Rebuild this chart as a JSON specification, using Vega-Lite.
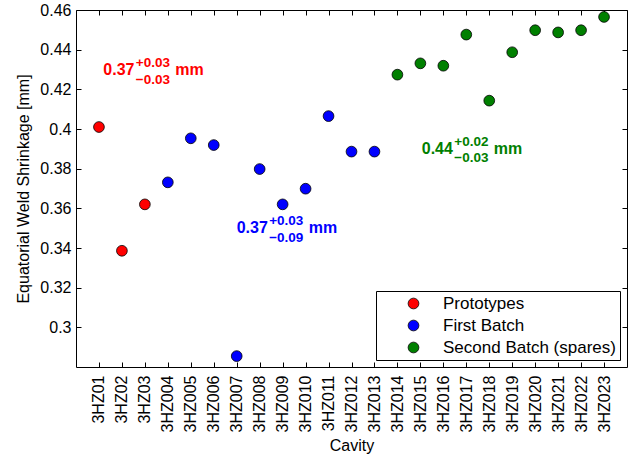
{
  "$schema": "https://vega.github.io/schema/vega-lite/v6.json",
  "width": 551,
  "height": 357,
  "autosize": "none",
  "padding": {"left": 76, "top": 10, "right": 2, "bottom": 93},
  "background": "white",
  "config": {
    "view": {"stroke": null},
    "font": "Liberation Sans",
    "axis": {"domainColor": "black", "tickColor": "black", "labelColor": "black", "titleColor": "black", "labelFont": "Liberation Sans", "titleFont": "Liberation Sans", "labelFontSize": 16, "titleFontSize": 16, "titleFontWeight": "normal", "grid": false, "tickSize": -5, "domainWidth": 1, "tickWidth": 1},
    "legend": {"labelFont": "Liberation Sans", "labelFontSize": 17, "labelColor": "black", "labelLimit": 0}
  },
  "datasets": {
    "cavities": [
      {"idx": 1, "cavity": "3HZ01", "batch": "Prototypes", "shrinkage": 0.401},
      {"idx": 2, "cavity": "3HZ02", "batch": "Prototypes", "shrinkage": 0.3386},
      {"idx": 3, "cavity": "3HZ03", "batch": "Prototypes", "shrinkage": 0.362},
      {"idx": 4, "cavity": "3HZ004", "batch": "First Batch", "shrinkage": 0.3731},
      {"idx": 5, "cavity": "3HZ005", "batch": "First Batch", "shrinkage": 0.3953},
      {"idx": 6, "cavity": "3HZ006", "batch": "First Batch", "shrinkage": 0.3919},
      {"idx": 7, "cavity": "3HZ007", "batch": "First Batch", "shrinkage": 0.2855},
      {"idx": 8, "cavity": "3HZ008", "batch": "First Batch", "shrinkage": 0.3798},
      {"idx": 9, "cavity": "3HZ009", "batch": "First Batch", "shrinkage": 0.362},
      {"idx": 10, "cavity": "3HZ010", "batch": "First Batch", "shrinkage": 0.3699},
      {"idx": 11, "cavity": "3HZ011", "batch": "First Batch", "shrinkage": 0.4065},
      {"idx": 12, "cavity": "3HZ012", "batch": "First Batch", "shrinkage": 0.3886},
      {"idx": 13, "cavity": "3HZ013", "batch": "First Batch", "shrinkage": 0.3886},
      {"idx": 14, "cavity": "3HZ014", "batch": "Second Batch (spares)", "shrinkage": 0.4274},
      {"idx": 15, "cavity": "3HZ015", "batch": "Second Batch (spares)", "shrinkage": 0.4331},
      {"idx": 16, "cavity": "3HZ016", "batch": "Second Batch (spares)", "shrinkage": 0.4319},
      {"idx": 17, "cavity": "3HZ017", "batch": "Second Batch (spares)", "shrinkage": 0.4476},
      {"idx": 18, "cavity": "3HZ018", "batch": "Second Batch (spares)", "shrinkage": 0.4143},
      {"idx": 19, "cavity": "3HZ019", "batch": "Second Batch (spares)", "shrinkage": 0.4387},
      {"idx": 20, "cavity": "3HZ020", "batch": "Second Batch (spares)", "shrinkage": 0.4498},
      {"idx": 21, "cavity": "3HZ021", "batch": "Second Batch (spares)", "shrinkage": 0.4487},
      {"idx": 22, "cavity": "3HZ022", "batch": "Second Batch (spares)", "shrinkage": 0.4498},
      {"idx": 23, "cavity": "3HZ023", "batch": "Second Batch (spares)", "shrinkage": 0.4565}
    ],
    "notes": [
      {"batch": "Prototypes", "x": 1.19, "y": 0.4272, "main": "0.37", "sup": "+0.03", "sub": "−0.03"},
      {"batch": "First Batch", "x": 7.0, "y": 0.3474, "main": "0.37", "sup": "+0.03", "sub": "−0.09"},
      {"batch": "Second Batch (spares)", "x": 15.06, "y": 0.3874, "main": "0.44", "sup": "+0.02", "sub": "−0.03"}
    ]
  },
  "layer": [
    {
      "data": {"name": "cavities"},
      "mark": {"type": "point", "shape": "circle", "filled": true, "size": 115, "stroke": "black", "strokeWidth": 0.8, "opacity": 1},
      "encoding": {
        "x": {"field": "idx", "type": "quantitative", "scale": {"domain": [0, 24], "nice": false, "zero": false},
          "axis": {"orient": "bottom", "title": "Cavity", "values": [1,2,3,4,5,6,7,8,9,10,11,12,13,14,15,16,17,18,19,20,21,22,23],
            "labelExpr": "['3HZ01','3HZ02','3HZ03','3HZ004','3HZ005','3HZ006','3HZ007','3HZ008','3HZ009','3HZ010','3HZ011','3HZ012','3HZ013','3HZ014','3HZ015','3HZ016','3HZ017','3HZ018','3HZ019','3HZ020','3HZ021','3HZ022','3HZ023'][datum.value - 1]",
            "labelAngle": -90, "labelAlign": "right", "labelBaseline": "middle", "labelPadding": 13, "titlePadding": 6, "labelOverlap": false, "labelFlush": false}},
        "y": {"field": "shrinkage", "type": "quantitative", "scale": {"domain": [0.28, 0.46], "nice": false, "zero": false},
          "axis": {"orient": "left", "title": "Equatorial Weld Shrinkage [mm]", "values": [0.3, 0.32, 0.34, 0.36, 0.38, 0.4, 0.42, 0.44, 0.46], "format": "~g", "labelPadding": 10, "titlePadding": 8, "labelFlush": false}},
        "color": {"field": "batch", "type": "nominal",
          "scale": {"domain": ["Prototypes", "First Batch", "Second Batch (spares)"], "range": ["#ff0000", "#0000ff", "#008000"]},
          "legend": {"title": null, "orient": "none", "legendX": 300, "legendY": 281, "strokeColor": "black", "fillColor": "white", "padding": 4, "symbolOffset": 25, "labelOffset": 21, "rowPadding": 4, "labelLimit": 0, "symbolSize": 115, "symbolType": "circle", "symbolStrokeColor": "black", "symbolStrokeWidth": 0.8, "symbolOpacity": 1}}
      }
    },
    {
      "data": {"name": "cavities"},
      "mark": {"type": "point", "opacity": 0},
      "encoding": {
        "x": {"field": "idx", "type": "quantitative", "axis": {"orient": "top", "title": null, "labels": false, "values": [1,2,3,4,5,6,7,8,9,10,11,12,13,14,15,16,17,18,19,20,21,22,23]}},
        "y": {"field": "shrinkage", "type": "quantitative", "axis": {"orient": "right", "title": null, "labels": false, "values": [0.3, 0.32, 0.34, 0.36, 0.38, 0.4, 0.42, 0.44, 0.46]}}
      }
    },
    {
      "data": {"name": "notes"},
      "mark": {"type": "text", "align": "left", "baseline": "alphabetic", "fontWeight": "bold", "fontSize": 16, "font": "Liberation Sans"},
      "encoding": {
        "x": {"field": "x", "type": "quantitative", "axis": null},
        "y": {"field": "y", "type": "quantitative", "axis": null},
        "text": {"field": "main"},
        "color": {"field": "batch", "type": "nominal", "scale": {"domain": ["Prototypes", "First Batch", "Second Batch (spares)"], "range": ["#ff0000", "#0000ff", "#008000"]}, "legend": null}
      }
    },
    {
      "data": {"name": "notes"},
      "mark": {"type": "text", "align": "left", "baseline": "alphabetic", "fontWeight": "bold", "fontSize": 13.5, "font": "Liberation Sans", "dx": 32.5, "dy": -8},
      "encoding": {
        "x": {"field": "x", "type": "quantitative", "axis": null},
        "y": {"field": "y", "type": "quantitative", "axis": null},
        "text": {"field": "sup"},
        "color": {"field": "batch", "type": "nominal", "scale": {"domain": ["Prototypes", "First Batch", "Second Batch (spares)"], "range": ["#ff0000", "#0000ff", "#008000"]}, "legend": null}
      }
    },
    {
      "data": {"name": "notes"},
      "mark": {"type": "text", "align": "left", "baseline": "alphabetic", "fontWeight": "bold", "fontSize": 13.5, "font": "Liberation Sans", "dx": 32.5, "dy": 8.5},
      "encoding": {
        "x": {"field": "x", "type": "quantitative", "axis": null},
        "y": {"field": "y", "type": "quantitative", "axis": null},
        "text": {"field": "sub"},
        "color": {"field": "batch", "type": "nominal", "scale": {"domain": ["Prototypes", "First Batch", "Second Batch (spares)"], "range": ["#ff0000", "#0000ff", "#008000"]}, "legend": null}
      }
    },
    {
      "data": {"name": "notes"},
      "mark": {"type": "text", "align": "left", "baseline": "alphabetic", "fontWeight": "bold", "fontSize": 16, "font": "Liberation Sans", "dx": 72, "text": "mm"},
      "encoding": {
        "x": {"field": "x", "type": "quantitative", "axis": null},
        "y": {"field": "y", "type": "quantitative", "axis": null},
        "color": {"field": "batch", "type": "nominal", "scale": {"domain": ["Prototypes", "First Batch", "Second Batch (spares)"], "range": ["#ff0000", "#0000ff", "#008000"]}, "legend": null}
      }
    }
  ],
  "resolve": {"axis": {"x": "independent", "y": "independent"}, "scale": {"color": "independent"}}
}
